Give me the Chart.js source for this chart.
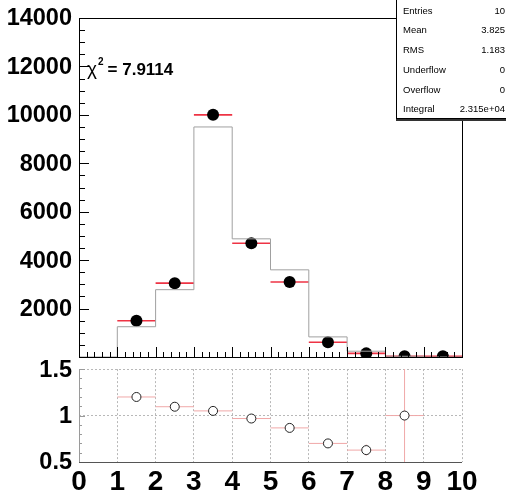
<!DOCTYPE html>
<html>
<head>
<meta charset="utf-8">
<script src="https://cdn.jsdelivr.net/npm/chart.js@4.4.1/dist/chart.umd.min.js"></script>
<style>
  body { margin: 0; background: #fff; width: 506px; height: 498px; overflow: hidden; position: relative; font-family: "Liberation Sans", Arial, sans-serif; }
  #top { position: absolute; left: 0; top: 0; }
  #bot { position: absolute; left: 0; top: 355px; }
  .stats { position: absolute; left: 396px; top: -1px; width: 120px; height: 118px; border: 1px solid #000; background: #fff; box-shadow: 0 2px 0 #333; font-size: 9.5px; }
  .stats div { position: absolute; left: 6px; right: 12px; height: 12px; line-height: 12px; }
  .stats span { float: right; }
  .chi { position: absolute; left: 87px; top: 58px; font-size: 17px; font-weight: bold; white-space: nowrap; }
  .chi i { font-weight: normal; font-style: normal; font-size: 19px; }
  .chi sup { font-size: 10px; position: relative; top: -3px; margin-left: 1px; margin-right: 4px; }
</style>
</head>
<body>
<canvas id="top" width="506" height="372"></canvas>
<canvas id="bot" width="506" height="143"></canvas>
<div class="chi"><i>χ</i><sup>2</sup>= 7.9114</div>
<div class="stats">
  <div style="top:5px">Entries<span>10</span></div>
  <div style="top:24px">Mean<span>3.825</span></div>
  <div style="top:44px">RMS<span>1.183</span></div>
  <div style="top:64px">Underflow<span>0</span></div>
  <div style="top:84px">Overflow<span>0</span></div>
  <div style="top:103px">Integral<span>2.315e+04</span></div>
</div>
<script>
// bin edges and contents of the reference (gray) histogram
const binEdges = [0, 1, 2, 3, 4, 5, 6, 7, 8, 9, 10];
const mcCounts = [0, 1250, 2780, 9500, 4880, 3600, 830, 240, 30, 0];
// data points (black dots), one per bin centre
const dataX = [1.5, 2.5, 3.5, 4.5, 5.5, 6.5, 7.5, 8.5, 9.5];
const dataCounts = [1500, 3050, 10000, 4700, 3100, 610, 150, 30, 30];
// ratio panel
const ratioX = [1.5, 2.5, 3.5, 4.5, 5.5, 6.5, 7.5, 8.5];
const ratioVals = [1.2, 1.095, 1.05, 0.968, 0.867, 0.70, 0.628, 1.0];
const ratioErrs = [0, 0, 0, 0, 0, 0.02, 0.06, 1.0];
// tick labels
const mainYTicks = [0, 2000, 4000, 6000, 8000, 10000, 12000, 14000];
const ratioYTicks = [0.5, 1, 1.5];
const xTicks = [0, 1, 2, 3, 4, 5, 6, 7, 8, 9, 10];
const xTickLabels = ['0', '1', '2', '3', '4', '5', '6', '7', '8', '9', '10'];

Chart.defaults.font.family = '"Liberation Sans", Arial, sans-serif';
Chart.defaults.color = '#000';

// step outline: value of bin i runs from edge i to edge i+1
const histPoints = binEdges.map((e, i) => ({ x: e, y: mcCounts[Math.min(i, mcCounts.length - 1)] }));
const dataPoints = dataX.map((x, i) => ({ x: x, y: dataCounts[i] }));
const ratioPoints = ratioX.map((x, i) => ({ x: x, y: ratioVals[i] }));

function line(ctx, x1, y1, x2, y2) {
  ctx.beginPath();
  ctx.moveTo(x1, y1);
  ctx.lineTo(x2, y2);
  ctx.stroke();
}

const mainDecor = {
  id: 'mainDecor',
  beforeDatasetDraw(chart, args) {
    if (args.index !== 1) return;
    const { ctx, scales: { x, y } } = chart;
    ctx.save();
    ctx.strokeStyle = '#ee3344';
    ctx.lineWidth = 1.6;
    dataX.forEach((cx, i) => {
      const py = y.getPixelForValue(dataCounts[i]);
      line(ctx, x.getPixelForValue(cx - 0.5), py, x.getPixelForValue(cx + 0.5), py);
    });
    ctx.restore();
  },
  afterDraw(chart) {
    const { ctx, chartArea: a, scales: { x, y } } = chart;
    ctx.save();
    ctx.strokeStyle = '#000';
    ctx.lineWidth = 1;
    ctx.strokeRect(Math.round(a.left) + 0.5, Math.round(a.top) + 0.5, Math.round(a.right - a.left), Math.round(a.bottom - a.top));
    // y ticks, inside
    for (let v = 0; v <= 14000; v += 500) {
      const py = Math.round(y.getPixelForValue(v)) + 0.5;
      const len = v % 2000 === 0 ? 10 : 6;
      line(ctx, a.left, py, a.left + len, py);
    }
    // x ticks, inside
    for (let k = 0; k <= 50; k++) {
      const px = Math.round(x.getPixelForValue(k / 5)) + 0.5;
      const len = k % 5 === 0 ? 10 : 5;
      line(ctx, px, a.bottom, px, a.bottom - len);
    }
    ctx.restore();
  }
};

new Chart(document.getElementById('top'), {
  type: 'scatter',
  data: {
    datasets: [
      {
        data: histPoints,
        showLine: true,
        stepped: 'before',
        borderColor: '#a0a0a0',
        borderWidth: 1,
        pointRadius: 0,
        fill: false
      },
      {
        data: dataPoints,
        pointRadius: 6,
        pointBackgroundColor: '#000',
        pointBorderColor: '#000',
        pointBorderWidth: 0
      }
    ]
  },
  options: {
    responsive: false,
    animation: false,
    events: [],
    layout: { autoPadding: false, padding: { top: 18, right: 44, bottom: 15, left: 0 } },
    plugins: { legend: { display: false }, tooltip: { enabled: false } },
    scales: {
      x: { type: 'linear', min: 0, max: 10, display: false },
      y: {
        min: 0, max: 14000,
        afterBuildTicks: s => { s.ticks = mainYTicks.map(v => ({ value: v })); },
        afterFit: s => { s.width = 79; },
        grid: { display: true, drawOnChartArea: false, drawTicks: true, tickLength: 7, tickColor: 'rgba(0,0,0,0)' },
        border: { display: false },
        ticks: {
          padding: 0,
          labelOffset: 1,
          font: { size: 23.5, weight: 'bold' },
          callback: v => (v === 0 ? '' : String(v))
        }
      }
    }
  },
  plugins: [mainDecor]
});

const ratioDecor = {
  id: 'ratioDecor',
  beforeDatasetsDraw(chart) {
    const { ctx, chartArea: a, scales: { x, y } } = chart;
    ctx.save();
    ctx.beginPath();
    ctx.rect(a.left, a.top, a.right - a.left, a.bottom - a.top);
    ctx.clip();
    ctx.strokeStyle = '#f0a8a8';
    ctx.lineWidth = 1;
    ratioX.forEach((cx, i) => {
      const px = x.getPixelForValue(cx);
      const py = y.getPixelForValue(ratioVals[i]);
      line(ctx, x.getPixelForValue(cx - 0.5), py, x.getPixelForValue(cx + 0.5), py);
      if (ratioErrs[i] > 0) {
        line(ctx, px, y.getPixelForValue(ratioVals[i] - ratioErrs[i]), px, y.getPixelForValue(ratioVals[i] + ratioErrs[i]));
      }
    });
    ctx.restore();
  },
  afterDraw(chart) {
    const { ctx, chartArea: a, scales: { y } } = chart;
    ctx.save();
    ctx.lineWidth = 1;
    ctx.strokeStyle = '#9a9a9a';
    const lx = Math.round(a.left) + 0.5;
    line(ctx, lx, a.top, lx, a.bottom);
    for (let k = 5; k <= 15; k++) {
      const py = Math.round(y.getPixelForValue(k / 10)) + 0.5;
      line(ctx, a.left, py, a.left + (k % 5 === 0 ? 6 : 3), py);
    }
    ctx.strokeStyle = '#555';
    const by = Math.round(a.bottom) + 0.5;
    line(ctx, a.left, by, a.right, by);
    ctx.restore();
  }
};

new Chart(document.getElementById('bot'), {
  type: 'scatter',
  data: {
    datasets: [
      {
        data: ratioPoints,
        pointRadius: 4.5,
        pointBackgroundColor: '#fff',
        pointBorderColor: '#222',
        pointBorderWidth: 1
      }
    ]
  },
  options: {
    responsive: false,
    animation: false,
    events: [],
    layout: { autoPadding: false, padding: { top: 14, right: 44, bottom: 0, left: 0 } },
    plugins: { legend: { display: false }, tooltip: { enabled: false } },
    scales: {
      x: {
        type: 'linear', min: 0, max: 10,
        afterBuildTicks: s => { s.ticks = xTicks.map(v => ({ value: v })); },
        afterFit: s => { s.height = 36; },
        grid: {
          drawTicks: false,
          lineWidth: 1,
          color: c => (c.tick && c.tick.value > 0 ? '#b8b8b8' : 'rgba(0,0,0,0)')
        },
        border: { display: false, dash: [2, 2] },
        ticks: {
          padding: 3,
          maxRotation: 0,
          autoSkip: false,
          font: { size: 28, weight: 'bold' },
          callback: (v, i) => xTickLabels[i]
        }
      },
      y: {
        min: 0.5, max: 1.5,
        afterBuildTicks: s => { s.ticks = ratioYTicks.map(v => ({ value: v })); },
        afterFit: s => { s.width = 79; },
        grid: {
          drawTicks: true,
          tickLength: 7,
          tickColor: 'rgba(0,0,0,0)',
          lineWidth: 1,
          color: c => (c.tick && c.tick.value > 0.5 ? '#b8b8b8' : 'rgba(0,0,0,0)')
        },
        border: { display: false, dash: [2, 2] },
        ticks: {
          padding: 0,
          labelOffset: 1,
          font: { size: 23.5, weight: 'bold' },
          callback: v => String(v)
        }
      }
    }
  },
  plugins: [ratioDecor]
});
</script>
</body>
</html>
